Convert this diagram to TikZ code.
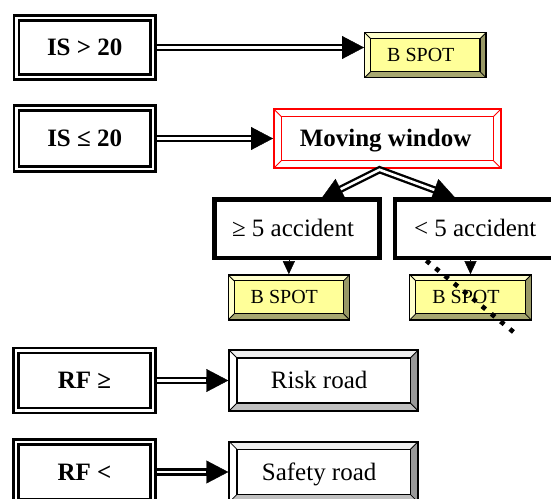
\documentclass[tikz,border=0pt]{standalone}
\usepackage{fontspec}
\setmainfont{Liberation Serif}
\usetikzlibrary{arrows.meta,calc}
\definecolor{bface}{HTML}{FFFF99}
\definecolor{blight}{HTML}{FFFFCC}
\definecolor{bdark}{HTML}{999966}
\definecolor{bdarkb}{HTML}{A8A870}
\definecolor{gtop}{HTML}{EEEEEE}
\definecolor{gright}{HTML}{999999}
\definecolor{gbottom}{HTML}{C0C0C0}
\newcommand\shl[2]{\hspace*{-#1pt}#2}
\tikzset{
  bigfont/.style={font=\fontsize{25}{30}\selectfont},
  bigbold/.style={font=\bfseries\fontsize{25}{30}\selectfont},
  capalign/.style={text height=16.5pt, text depth=0pt},
  dblbox/.style={draw, double=white, line width=2.7pt, double distance=2.2pt, fill=white,
    outer sep=3.8pt, inner sep=0pt, bigbold, capalign, minimum width=136.4pt},
  accbox/.style={draw, line width=4.3pt, fill=white, inner sep=0pt, bigfont, capalign,
    minimum width=165.1pt, minimum height=58.4pt},
  bevel/.style n args={7}{path picture={
      \coordinate (pNW) at (path picture bounding box.north west);
      \coordinate (pNE) at (path picture bounding box.north east);
      \coordinate (pSE) at (path picture bounding box.south east);
      \coordinate (pSW) at (path picture bounding box.south west);
      \coordinate (iNW) at ($(pNW)+(#1pt,-#1pt)$);
      \coordinate (iNE) at ($(pNE)+(-#1pt,-#1pt)$);
      \coordinate (iSE) at ($(pSE)+(-#1pt,#1pt)$);
      \coordinate (iSW) at ($(pSW)+(#1pt,#1pt)$);
      \fill[#3] (pNW) -- (pNE) -- (iNE) -- (iNW) -- cycle;
      \fill[#4] (pNW) -- (iNW) -- (iSW) -- (pSW) -- cycle;
      \fill[#5] (pNE) -- (pSE) -- (iSE) -- (iNE) -- cycle;
      \fill[#6] (pSW) -- (iSW) -- (iSE) -- (pSE) -- cycle;
      \fill[#2] (iNW) rectangle (iSE);
      \draw[#7, line width=1.2pt] (iNW) rectangle (iSE);
      \draw[#7, line width=0.8pt] (pNW) -- (iNW) (pNE) -- (iNE) (pSE) -- (iSE) (pSW) -- (iSW);
  }},
  bspotbox/.style={draw, line width=1.3pt, inner sep=0pt, minimum width=121.4pt,
    minimum height=45pt, font=\fontsize{20}{24}\selectfont, text height=13.2pt, text depth=0pt,
    bevel={6}{bface}{blight}{blight}{bdark}{bdarkb}{black}},
  windowbox/.style={draw=red, line width=1.8pt, fill=white, inner sep=0pt, minimum width=226.9pt,
    minimum height=58.9pt, bigbold, capalign, bevel={7.5}{white}{white}{white}{white}{white}{red}},
  roadbox/.style={draw, line width=1.8pt, inner sep=0pt, minimum width=188.9pt,
    minimum height=60.6pt, bigfont, capalign, bevel={7.8}{white}{gtop}{white}{gright}{gbottom}{black}},
  tipline/.style={line width=0.4pt, -{Triangle[length=22pt,width=23pt]}},
  shaft/.style={line width=7.3pt, shorten >=19pt},
  core/.style={white, line width=2.6pt, shorten >=22pt},
  smalltip/.style={line width=0.4pt, -{Triangle[length=13pt,width=12pt]}},
  dotline/.style={line width=4.6pt, dash pattern=on 4.6pt off 7.4pt},
}
\newcommand\dblarrow[2]{\draw[tipline] (#1) -- (#2); \draw[shaft] (#1) -- (#2); \draw[core] (#1) -- (#2);}
\begin{document}
\begin{tikzpicture}[x=1pt, y=1pt]
\useasboundingbox (0,0) rectangle (551,-498);
\clip (0,0) rectangle (551,-498);

% left condition boxes
\node[dblbox, minimum height=59.4pt] (is1) at (84.7,-47.5) {IS > 20};
\node[dblbox, minimum height=61.4pt] (is2) at (84.7,-138.5) {IS ≤ 20};
\node[dblbox, minimum width=136.8pt, minimum height=60pt] (rf1) at (84.5,-380.5) {RF ≥};
\node[dblbox, minimum width=136.8pt, minimum height=60pt] (rf2) at (84.5,-472) {RF <};

% result boxes
\node[bspotbox] (bs1) at (425.35,-55.15) {\shl{9}{B SPOT}};
\node[windowbox] (mw) at (387.35,-138.65) {\shl{3.6}{Moving window}};
\node[roadbox] (risk) at (323.65,-380.5) {\shl{9}{Risk road}};
\node[roadbox] (safe) at (323.65,-471.9) {\shl{9}{Safety road}};

% horizontal double arrows
\dblarrow{is1.east}{is1.east -| bs1.west}
\dblarrow{is2.east}{is2.east -| mw.west}
\dblarrow{rf1.east}{rf1.east -| risk.west}
\dblarrow{rf2.east}{rf2.east -| safe.west}

% branching double arrows from the moving window
\coordinate (apex) at ($(mw.south)+(-7.85,-0.7)$);
\coordinate (t1) at (321,-199);
\coordinate (t2) at (455,-197.5);
\draw[tipline] (apex) -- (t1);
\draw[tipline] (apex) -- (t2);
\draw[line width=7.3pt, miter limit=10, shorten <=19pt, shorten >=19pt] (t1) -- (apex) -- (t2);
\draw[white, line width=2.6pt, shorten <=22pt, shorten >=22pt] (t1) -- (apex) -- (t2);

% accident boxes
\node[accbox] (acc1) at (297,-228.65) {\shl{8}{≥ 5 accident}};
\node[accbox] (acc2) at (477.7,-228.65) {\shl{5}{< 5 accident}};

% lower B SPOT boxes
\node[bspotbox] (bs2) at (288.85,-297.35) {\shl{9}{B SPOT}};
\node[bspotbox] (bs3) at (470.5,-297.35) {\shl{9}{B SPOT}};
\draw[smalltip] (bs2.north |- acc1.south) -- (bs2.north);
\draw[smalltip] (bs3.north |- acc2.south) -- (bs3.north);

% dotted cross-out line
\coordinate (d1) at (426.3,-260.6);
\coordinate (d2) at (513.5,-332);
\draw[dotline] (d1) -- (d2);
\end{tikzpicture}
\end{document}
